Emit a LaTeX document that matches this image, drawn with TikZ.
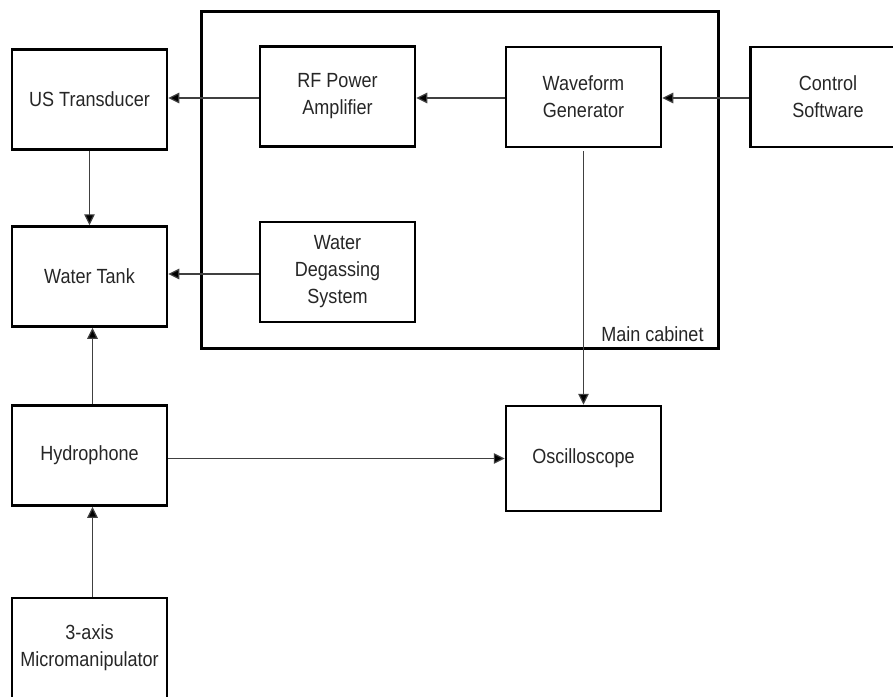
\documentclass[tikz,border=0pt]{standalone}
\usepackage{fontspec}
\setmainfont{Liberation Sans}[FakeStretch=0.88]
\usetikzlibrary{arrows.meta}
\begin{document}
\begin{tikzpicture}[x=1pt,y=-1pt,
  block/.style={draw=black, line width=2.5pt, minimum width=155pt, minimum height=100pt,
    inner sep=0pt, align=center, text=black!85, font=\fontsize{20.5}{27}\selectfont},
  link/.style={draw=black!75, line width=1.2pt,
    -{Triangle[length=11pt,width=10.5pt,fill=black]}}
]
\path[use as bounding box] (0,0) rectangle (893,696);
\clip (0,0) rectangle (893,696);

% cabinet enclosure
\node[draw=black, line width=2.5pt, minimum width=517pt, minimum height=337pt, inner sep=0pt]
  (cab) at (460,180) {};
\node[anchor=south east, inner sep=0pt, text=black!85, font=\fontsize{20.5}{27}\selectfont]
  (cablabel) at ([xshift=-16pt,yshift=8pt]cab.south east) {Main cabinet};

% blocks
\node[block] (us)   at (89.5,99.5)  {US Transducer};
\node[block] (wt)   at (89.5,276.5) {Water Tank};
\node[block] (hyd)  at (89.5,455.5) {Hydrophone};
\node[block] (mm)   at (89.5,648)   {3-axis\\Micromanipulator};
\node[block] (rf)   at (337.5,96.5) {RF Power\\Amplifier};
\node[block] (wds)  at (337.5,272)  {Water\\Degassing\\System};
\node[block] (wg)   at (583.5,97)   {Waveform\\Generator};
\node[block] (cs)   at (828,97)     {Control\\Software};
\node[block, minimum height=105pt] (osc) at (583.5,458.5) {Oscilloscope};

% signal paths
\draw[link] ([yshift=-1.5pt]rf.west)  -- ([yshift=-1.5pt]rf.west -| us.east);
\draw[link] ([yshift=-1pt]wg.west)    -- ([yshift=-1pt]wg.west -| rf.east);
\draw[link] ([yshift=-1pt]cs.west)    -- ([yshift=-1pt]cs.west -| wg.east);
\draw[link] (us.south)                -- (wt.north);
\draw[link] ([yshift=-2pt]wds.west)   -- ([yshift=-2pt]wds.west -| wt.east);
\draw[link] ([xshift=3pt]hyd.north)   -- ([xshift=3pt]wt.south);
\draw[link] ([xshift=3pt]mm.north)    -- ([xshift=3pt]hyd.south);
\draw[link] ([yshift=-3pt]hyd.east)   -- ([yshift=-3pt]hyd.east -| osc.west);
\draw[link] ([yshift=-3pt]wg.south)   -- (osc.north);
\end{tikzpicture}
\end{document}
